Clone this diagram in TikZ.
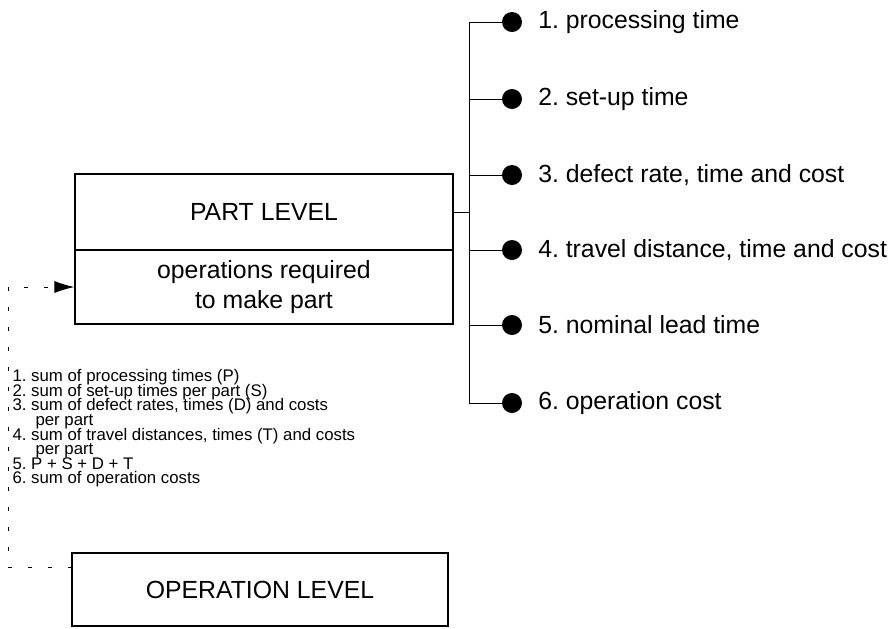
\documentclass[tikz,border=0pt]{standalone}
\usepackage{fontspec}
\setmainfont{Liberation Sans}
\usetikzlibrary{positioning,arrows.meta}
\newcommand{\sumfont}{\fontsize{8.4}{7.3}\selectfont\lineskiplimit=-20pt\relax}

\begin{document}
\frenchspacing
\begin{tikzpicture}[x=0.5pt,y=-0.5pt,line width=0.5pt,every node/.style={font=\fontsize{12.4}{15}\selectfont}]
            \useasboundingbox (0,0) rectangle (895,628);
            \tikzset{levelbox/.style={draw,line width=0.6pt,inner sep=0pt,align=center},
                     dot/.style={circle,fill,inner sep=0pt,minimum size=10pt},
                     feedback/.style={dash pattern=on 2pt off 8pt}}
            \node[levelbox,minimum width=189pt,minimum height=38pt] (parttop) at (264,212) {PART LEVEL};
            \node[levelbox,minimum width=189pt,minimum height=37pt] (partbot) at (264,287) {operations required\\to make part};
            \node[levelbox,minimum width=188pt,minimum height=36.5pt] (op) at (260,589.5) {OPERATION LEVEL};
            \node[dot] (d1) at (512,22) {};
            \node[dot] (d2) at (512,99) {};
            \node[dot] (d3) at (512,175) {};
            \node[dot] (d4) at (512,250) {};
            \node[dot] (d5) at (512,325) {};
            \node[dot] (d6) at (512,403) {};
            \node[right=4.3pt of d1] (l1) {1. processing time};
            \node[right=4.3pt of d2] (l2) {2. set-up time};
            \node[right=4.3pt of d3] (l3) {3. defect rate, time and cost};
            \node[right=4.3pt of d4] (l4) {4. travel distance, time and cost};
            \node[right=4.3pt of d5] (l5) {5. nominal lead time};
            \node[right=4.3pt of d6] (l6) {6. operation cost};
            \coordinate (t1) at (469,22);
            \coordinate (t2) at (469,99);
            \coordinate (t3) at (469,175);
            \coordinate (t4) at (469,250);
            \coordinate (t5) at (469,325);
            \coordinate (t6) at (469,403);
            \draw (d1) -- (t1) -- (t6) -- (d6);
            \draw (t2) -- (d2);
            \draw (t3) -- (d3);
            \draw (t4) -- (d4);
            \draw (t5) -- (d5);
            \draw (parttop.east) -- (parttop.east -| t1);
            % summed up from operation level
            \node[anchor=north west,inner sep=0pt,align=left,font=\sumfont] (sums) at (12,369) {1. sum of processing times (P)\\2. sum of set-up times per part (S)\\3. sum of defect rates, times (D) and costs\\\hspace*{11.5pt}per part\\4. sum of travel distances, times (T) and costs\\\hspace*{11.5pt}per part\\5. P + S + D + T\\6. sum of operation costs};
            \coordinate (opin) at (72,567);
            \coordinate (fb1) at (8,567);
            \coordinate (fb2) at (8,287);
            \draw[feedback,-{Latex[length=10pt,width=6pt]}] (opin) -- (fb1) -- (fb2) -- (partbot.west);
        \end{tikzpicture}
\end{document}
